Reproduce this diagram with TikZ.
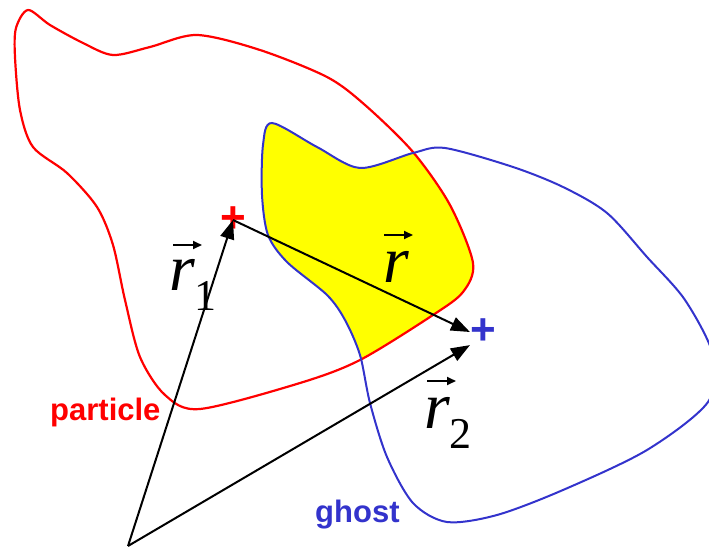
\documentclass[tikz,border=0pt]{standalone}
\usepackage{fontspec}
\setmainfont{Liberation Serif}
\newfontfamily\labelfont{Liberation Sans}
\usepackage{xcolor}
\usepackage{tikz}
\usetikzlibrary{arrows.meta,positioning}
\definecolor{particlered}{RGB}{255,0,0}
\definecolor{ghostblue}{RGB}{51,51,204}
\definecolor{overlapyellow}{RGB}{255,255,0}

% italic r with optional index
\newcommand{\rindex}[1]{\textit{r}\kern-1pt\raisebox{-20pt}{\fontsize{44}{44}\selectfont #1}}

% outlines of the two densities
\newcommand{\particleshape}{plot[smooth cycle] coordinates {(28,10) (50,25) (83,43) (113,55) (150,47) (197,35) (260,50) (327,77) (365,105) (413,152) (450,205) (473,263) (463,292) (433,315) (360,360) (300,383) (200,409) (165,395) (140,357) (125,300) (113,245) (97,207) (67,173) (33,147) (20,110) (15,57) (16,28)}}
\newcommand{\ghostshape}{plot[smooth cycle] coordinates {(272,123) (317,147) (360,168) (413,153) (445,148) (513,167) (563,187) (607,213) (647,257) (685,300) (713,355) (708,402) (647,450) (563,490) (497,515) (447,522) (413,503) (387,457) (370,403) (360,355) (345,320) (327,295) (287,262) (268,235) (262,195) (263,145)}}

\begin{document}
\begin{tikzpicture}[x=1pt, y=-1pt,
    vec/.style={line width=2pt, -{Triangle[length=19pt,width=14pt]}},
    accent/.style={line width=1.8pt, -{Triangle[length=9pt,width=8pt]}},
    veclabel/.style={anchor=base west, inner sep=0pt, font=\fontsize{66}{66}\selectfont},
    plusmark/.style={inner sep=0pt, font=\labelfont\bfseries\fontsize{44}{44}\selectfont},
    densitylabel/.style={anchor=base west, inner sep=0pt, font=\labelfont\bfseries\fontsize{31}{31}\selectfont}
  ]
    \useasboundingbox (0,0) rectangle (709,548);

    % Overlap region
    \begin{scope}
      \clip \ghostshape;
      \fill[overlapyellow] \particleshape;
    \end{scope}

    % Outlines
    \draw[particlered, line width=2.2pt] \particleshape;
    \draw[ghostblue, line width=2pt] \ghostshape;

    % Positions
    \coordinate (o) at (128,546);
    \node[plusmark, particlered] (ra) at (233,220) {+};
    \node[plusmark, ghostblue] (rb) at (483,332) {+};

    % Vectors
    \draw[vec] (o) -- (ra.center);
    \draw[vec] (o) -- (rb.south west);
    \draw[vec] (ra.center) -- (rb.west);

    % Labels
    \node[veclabel] (lr1) at (169,290) {\rindex{1}};
    \node[veclabel] (lr) at (383,282) {\textit{r}};
    \node[veclabel] (lr2) at (424,428) {\rindex{2}};
    \node[densitylabel, particlered] (lpart) at (50,420) {particle};
    \node[densitylabel, ghostblue] (lghost) at (315,522) {ghost};

    % Vector accents
    \draw[accent] ([shift={(4,-45)}]lr1.base west) -- ++(29,0);
    \draw[accent] ([shift={(1,-47)}]lr.base west) -- ++(29,0);
    \draw[accent] ([shift={(3,-47)}]lr2.base west) -- ++(29,0);
  \end{tikzpicture}
\end{document}
